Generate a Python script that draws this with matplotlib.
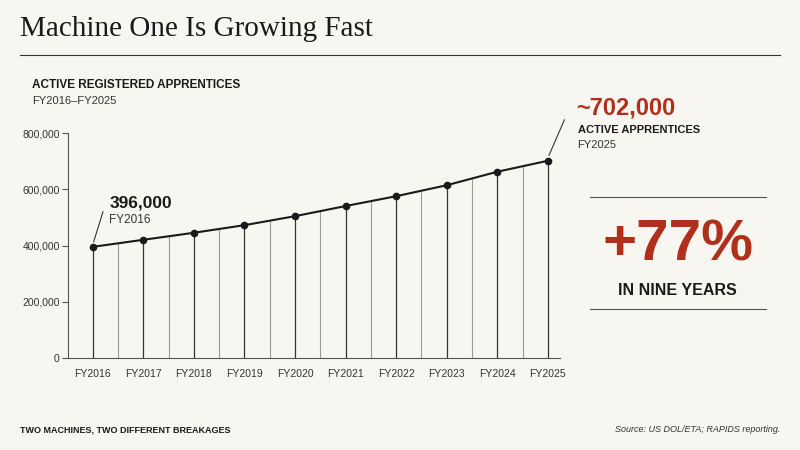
import numpy as np
import matplotlib
matplotlib.use('Agg')
import matplotlib.pyplot as plt
from matplotlib.lines import Line2D

plt.rcParams['font.family'] = ['Liberation Sans', 'DejaVu Sans']

years = ['FY2016', 'FY2017', 'FY2018', 'FY2019', 'FY2020',
         'FY2021', 'FY2022', 'FY2023', 'FY2024', 'FY2025']
apprentices = [396000, 421000, 446000, 473000, 505000,
               541000, 576000, 615000, 663000, 702000]
yticks = [0, 200000, 400000, 600000, 800000]

bg = '#f8f6f1'
red = '#b0301c'
ink = '#1a1a1a'

fig = plt.figure(figsize=(8, 4.5), dpi=100, facecolor=bg)
ax = fig.add_axes([0.085, 0.204, 0.615, 0.5], facecolor=bg)

x = np.arange(len(years))
vals = np.array(apprentices)
# thin grey drops at the half-year points
mid_x = (x[:-1] + x[1:]) / 2
mid_y = (vals[:-1] + vals[1:]) / 2
ax.vlines(mid_x, 0, mid_y, color='#9a9a9a', lw=0.8)
ax.vlines(x, 0, vals, color='#333333', lw=0.9)
ax.plot(x, vals, color=ink, lw=1.5, marker='o', ms=4.5, zorder=3)

ax.set_xlim(-0.49, 9.24)
ax.set_ylim(0, 800000)
ax.set_xticks(x)
ax.set_xticklabels(years, fontsize=7.5, color='#333333')
ax.set_yticks(yticks)
ax.set_yticklabels([f'{v:,}' for v in yticks], fontsize=7.5, color='#333333')
ax.tick_params(axis='x', length=0, pad=8)
ax.tick_params(axis='y', length=4, color='#555555', pad=2)
for s in ['top', 'right']:
    ax.spines[s].set_visible(False)
ax.spines['left'].set_color('#555555')
ax.spines['bottom'].set_color('#555555')

# callouts
ax.annotate('', xy=(0, vals[0] + 8000), xytext=(0.22, vals[0] + 135000),
            arrowprops=dict(arrowstyle='-', color='#333333', lw=0.8))
ax.text(0.33, vals[0] + 141000, f'{apprentices[0]:,}', fontsize=12.5, fontweight='bold', color=ink)
ax.text(0.33, vals[0] + 84000, years[0], fontsize=8.5, color='#333333')
ax.annotate('', xy=(9, vals[-1] + 10000), xytext=(9.35, vals[-1] + 155000),
            arrowprops=dict(arrowstyle='-', color='#333333', lw=0.8), annotation_clip=False)

fig.text(0.025, 0.965, 'Machine One Is Growing Fast', fontsize=21, family='Liberation Serif',
         color=ink, va='top')
fig.add_artist(Line2D([0.025, 0.975], [0.878, 0.878], color='#333333', lw=0.8))
fig.text(0.04, 0.805, 'ACTIVE REGISTERED APPRENTICES', fontsize=8.5, fontweight='bold', color=ink)
fig.text(0.04, 0.768, 'FY2016\u2013FY2025', fontsize=8, color='#333333')

fig.text(0.72, 0.745, '~' + f'{apprentices[-1]:,}', fontsize=17, fontweight='bold', color=red)
fig.text(0.722, 0.705, 'ACTIVE APPRENTICES', fontsize=8, fontweight='bold', color=ink)
fig.text(0.722, 0.672, years[-1], fontsize=8, color='#333333')

pct = round((apprentices[-1] / apprentices[0] - 1) * 100)
fig.add_artist(Line2D([0.738, 0.957], [0.562, 0.562], color='#555555', lw=0.8))
fig.text(0.847, 0.455, f'+{pct}%', fontsize=42, fontweight='bold', color=red, ha='center', va='center')
fig.text(0.847, 0.355, 'IN NINE YEARS', fontsize=11.5, fontweight='bold', color=ink, ha='center', va='center')
fig.add_artist(Line2D([0.738, 0.957], [0.313, 0.313], color='#555555', lw=0.8))

fig.text(0.025, 0.04, 'TWO MACHINES, TWO DIFFERENT BREAKAGES', fontsize=6.5, fontweight='bold', color=ink)
fig.text(0.975, 0.04, 'Source: US DOL/ETA; RAPIDS reporting.', fontsize=6.5, style='italic',
         color='#333333', ha='right')

fig.savefig('out.png', dpi=100, facecolor=bg)
